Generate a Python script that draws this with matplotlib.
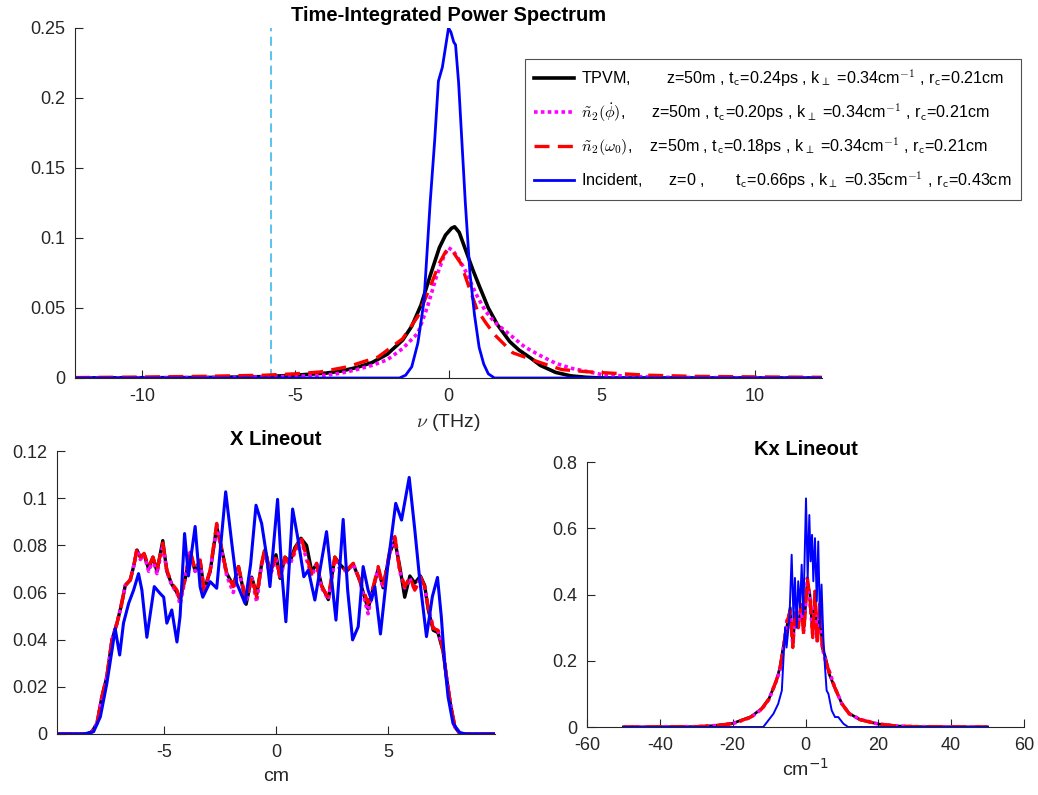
import matplotlib
matplotlib.use("Agg")
import matplotlib.pyplot as plt
from matplotlib.ticker import FuncFormatter

plt.rcParams['font.family'] = ['Liberation Sans', 'DejaVu Sans']
plt.rcParams['mathtext.fontset'] = 'cm'

# ---------------- Top panel: time-integrated power spectrum ----------------
nu_inc = [-12.2, -1.6, -1.4, -1.2, -1.0, -0.8, -0.6, -0.45, -0.33, -0.2, -0.1, 0.0, 0.08,
          0.17, 0.23, 0.33, 0.45, 0.55, 0.7, 0.85, 1.0, 1.15, 1.3, 1.5, 12.2]
p_inc = [0, 0, 0.002, 0.008, 0.025, 0.055, 0.125, 0.170, 0.212, 0.222, 0.236, 0.250, 0.247,
         0.240, 0.238, 0.211, 0.164, 0.125, 0.075, 0.045, 0.022, 0.010, 0.003, 0, 0]

nu_tpvm = [-12.2, -8, -6, -5, -4, -3.5, -3, -2.5, -2, -1.5, -1.2, -0.9, -0.6, -0.3, -0.1, 0.1,
           0.2, 0.35, 0.5, 0.8, 1.0, 1.3, 1.6, 2.0, 2.3, 2.7, 3.0, 3.5, 4.0, 4.5, 5, 12.2]
p_tpvm = [0, 0.0003, 0.001, 0.002, 0.0035, 0.005, 0.0075, 0.011, 0.017, 0.027, 0.037, 0.052,
          0.073, 0.093, 0.102, 0.107, 0.108, 0.104, 0.095, 0.077, 0.066, 0.050, 0.038, 0.026,
          0.020, 0.014, 0.009, 0.004, 0.0015, 0.0005, 0, 0]

nu_phi = [-12.2, -8, -6, -5, -4, -3.5, -3, -2.5, -2, -1.5, -1.0, -0.7, -0.4, -0.15, 0.0, 0.15,
          0.3, 0.5, 0.9, 1.2, 1.5, 2.0, 2.5, 3.0, 3.5, 4.0, 5.0, 6.0, 7.0, 9, 12.2]
p_phi = [0, 0.0003, 0.0008, 0.0012, 0.002, 0.0035, 0.006, 0.009, 0.013, 0.021, 0.032, 0.050,
         0.072, 0.087, 0.093, 0.091, 0.086, 0.079, 0.060, 0.048, 0.040, 0.031, 0.022, 0.016,
         0.0105, 0.007, 0.0025, 0.001, 0.0005, 0.0002, 0]

nu_w0 = [-12.2, -10, -8, -6, -5, -4.2, -3.3, -2.3, -1.5, -1.0, -0.6, -0.3, -0.1, 0.0, 0.15, 0.4,
         0.7, 0.93, 1.2, 1.5, 2.1, 3.0, 3.7, 4.5, 5.3, 6.5, 8, 10, 12.2]
p_w0 = [0.0003, 0.0007, 0.0012, 0.002, 0.003, 0.0043, 0.008, 0.015, 0.028, 0.044, 0.065, 0.082,
        0.090, 0.092, 0.090, 0.082, 0.063, 0.049, 0.040, 0.031, 0.018, 0.011, 0.006, 0.0045,
        0.0035, 0.002, 0.0012, 0.0008, 0.0005]

nu_cut = [-5.8, -5.8]
p_cut = [0, 0.252]

# ---------------- X lineout ----------------
x_inc = [-9.75, -8.56, -8.12, -7.82, -7.53, -7.3, -7.16, -6.96, -6.79, -6.56, -6.34, -6.12,
         -5.97, -5.75, -5.42, -5.16, -5.0, -4.86, -4.64, -4.41, -4.27, -4.07, -3.9, -3.6,
         -3.38, -3.26, -2.93, -2.64, -2.24, -1.97, -1.75, -1.38, -1.13, -0.89, -0.64, -0.41,
         -0.27, 0.07, 0.25, 0.44, 0.74, 0.96, 1.24, 1.44, 1.73, 2.25, 2.67, 2.99, 3.19, 3.41,
         3.66, 3.88, 4.1, 4.25, 4.4, 4.65, 4.99, 5.33, 5.59, 5.93, 6.18, 6.4, 6.7, 6.96, 7.19,
         7.36, 7.51, 7.66, 7.88, 8.18, 8.47, 9.75]
I_inc = [0, 0, 0.001, 0.0073, 0.0215, 0.0356, 0.0447, 0.0335, 0.047, 0.0554, 0.061, 0.068,
         0.061, 0.041, 0.0625, 0.0596, 0.058, 0.047, 0.0526, 0.039, 0.050, 0.085, 0.067, 0.088,
         0.0625, 0.058, 0.0646, 0.0618, 0.1027, 0.081, 0.064, 0.0554, 0.072, 0.097, 0.0893,
         0.075, 0.0625, 0.0995, 0.0695, 0.0476, 0.0954, 0.0837, 0.0667, 0.0695, 0.0568, 0.0858,
         0.0483, 0.091, 0.061, 0.0399, 0.0455, 0.071, 0.061, 0.0568, 0.0625, 0.0424, 0.0724,
         0.0978, 0.0907, 0.1088, 0.0865, 0.0653, 0.0413, 0.0582, 0.0664, 0.0497, 0.030, 0.0158,
         0.0045, 0.0006, 0, 0]

x_z50 = [-9.75, -8.4, -8.19, -7.97, -7.75, -7.53, -7.3, -7.08, -6.9, -6.71, -6.49, -6.34,
         -6.19, -6.04, -5.87, -5.67, -5.48, -5.3, -5.04, -4.86, -4.64, -4.41, -4.27, -4.04,
         -3.82, -3.6, -3.38, -3.2, -2.93, -2.64, -2.41, -2.19, -1.9, -1.67, -1.33, -1.08,
         -0.86, -0.64, -0.49, -0.27, 0.0, 0.18, 0.4, 0.62, 0.84, 1.11, 1.36, 1.59, 1.81, 2.03,
         2.33, 2.62, 2.84, 3.14, 3.44, 3.73, 4.1, 4.33, 4.55, 4.77, 5.07, 5.29, 5.51, 5.73,
         5.96, 6.18, 6.43, 6.62, 6.77, 7.0, 7.21, 7.44, 7.59, 7.76, 7.96, 8.18, 8.4, 9.75]
I_w0 = [0, 0, 0.001, 0.0045, 0.0158, 0.0243, 0.040, 0.047, 0.054, 0.063, 0.0653, 0.071,
        0.0787, 0.075, 0.0766, 0.071, 0.075, 0.0695, 0.081, 0.0695, 0.0639, 0.061, 0.0568,
        0.0667, 0.078, 0.0695, 0.0738, 0.061, 0.0695, 0.0893, 0.078, 0.068, 0.0625, 0.071,
        0.0568, 0.0667, 0.058, 0.0724, 0.079, 0.068, 0.075, 0.0667, 0.075, 0.0724, 0.078,
        0.0837, 0.075, 0.068, 0.0724, 0.0625, 0.058, 0.075, 0.071, 0.0695, 0.0724, 0.0653,
        0.0554, 0.0625, 0.071, 0.0625, 0.078, 0.0837, 0.0695, 0.0625, 0.0667, 0.061, 0.0667,
        0.0625, 0.054, 0.0448, 0.044, 0.0356, 0.0243, 0.013, 0.003, 0.0003, 0, 0]
I_tpvm = [0, 0, 0.001, 0.0045, 0.0158, 0.0243, 0.040, 0.047, 0.054, 0.063, 0.0653, 0.071,
          0.078, 0.075, 0.0760, 0.070, 0.075, 0.0690, 0.082, 0.0690, 0.0635, 0.060, 0.0570,
          0.0660, 0.077, 0.0690, 0.0735, 0.061, 0.0690, 0.0880, 0.078, 0.068, 0.0630, 0.071,
          0.0550, 0.0665, 0.059, 0.0720, 0.078, 0.069, 0.076, 0.0660, 0.075, 0.0730, 0.079,
          0.0830, 0.080, 0.069, 0.0720, 0.0630, 0.057, 0.075, 0.072, 0.0690, 0.0720, 0.0650,
          0.0530, 0.0620, 0.070, 0.0620, 0.077, 0.0820, 0.0710, 0.0580, 0.0670, 0.064, 0.0670,
          0.0630, 0.053, 0.0440, 0.043, 0.0350, 0.0240, 0.013, 0.003, 0.0003, 0, 0]
I_phi = [0, 0, 0.001, 0.0045, 0.0158, 0.0243, 0.040, 0.047, 0.054, 0.063, 0.0653, 0.071,
         0.0780, 0.074, 0.0760, 0.069, 0.074, 0.0680, 0.080, 0.0690, 0.0630, 0.060, 0.0550,
         0.0660, 0.077, 0.0690, 0.0730, 0.060, 0.0690, 0.0880, 0.077, 0.067, 0.0600, 0.070,
         0.0560, 0.0660, 0.056, 0.0720, 0.077, 0.067, 0.074, 0.0660, 0.074, 0.0720, 0.077,
         0.0830, 0.074, 0.067, 0.0720, 0.0620, 0.057, 0.074, 0.070, 0.0690, 0.0720, 0.0650,
         0.0510, 0.0620, 0.070, 0.0620, 0.077, 0.0840, 0.0690, 0.0620, 0.0660, 0.061, 0.0660,
         0.0620, 0.054, 0.0450, 0.044, 0.0360, 0.0245, 0.013, 0.003, 0.0003, 0, 0]

# ---------------- Kx lineout ----------------
kx_inc = [-50, -11.6, -8.8, -7.5, -6.5, -5.6, -5.2, -4.4, -3.8, -3.3, -2.9, -2.4, -2.0, -1.5,
          -1.05, -0.6, 0.14, 0.6, 1.05, 1.4, 1.8, 2.15, 2.6, 3.1, 3.5, 4.0, 4.4, 4.9, 5.3, 5.8,
          6.3, 7.2, 8.1, 9.0, 10.4, 11.7, 50]
S_inc = [0, 0, 0.04, 0.07, 0.11, 0.30, 0.24, 0.33, 0.52, 0.33, 0.45, 0.30, 0.44, 0.36, 0.49,
         0.34, 0.69, 0.45, 0.64, 0.50, 0.58, 0.44, 0.57, 0.38, 0.56, 0.30, 0.43, 0.27, 0.19,
         0.11, 0.10, 0.05, 0.03, 0.03, 0.01, 0, 0]

kx_z50 = [-50, -30, -25, -20, -15, -12, -10, -8, -7, -6, -5, -4.2, -3.5, -2.8, -2.0, -1.2,
          -0.5, 0.5, 1.2, 2.0, 2.6, 3.2, 4.0, 4.6, 5.5, 6.5, 8, 10, 12, 15, 20, 25, 30, 50]
S_w0 = [0, 0.001, 0.004, 0.010, 0.030, 0.055, 0.085, 0.14, 0.18, 0.24, 0.32, 0.35, 0.24, 0.35,
        0.30, 0.37, 0.28, 0.45, 0.39, 0.27, 0.41, 0.25, 0.37, 0.25, 0.20, 0.165, 0.12, 0.07,
        0.04, 0.022, 0.009, 0.003, 0.001, 0]
S_tpvm = [0, 0.001, 0.004, 0.011, 0.031, 0.056, 0.086, 0.14, 0.18, 0.25, 0.31, 0.36, 0.25,
          0.34, 0.31, 0.36, 0.29, 0.44, 0.40, 0.28, 0.40, 0.26, 0.36, 0.24, 0.21, 0.16, 0.12,
          0.07, 0.041, 0.022, 0.009, 0.003, 0.001, 0]
S_phi = [0, 0.001, 0.004, 0.010, 0.029, 0.054, 0.084, 0.14, 0.17, 0.24, 0.33, 0.34, 0.25,
         0.35, 0.30, 0.36, 0.29, 0.44, 0.38, 0.28, 0.40, 0.26, 0.38, 0.24, 0.20, 0.17, 0.12,
         0.07, 0.040, 0.023, 0.009, 0.003, 0.001, 0]

legend_labels = [
    r"TPVM,        z=50m , t$_\mathsf{c}$=0.24ps , k$_\perp$ =0.34cm$^{\mathsf{-1}}$ , r$_\mathsf{c}$=0.21cm",
    r"$\tilde{n}_2(\dot{\phi})$,      z=50m , t$_\mathsf{c}$=0.20ps , k$_\perp$ =0.34cm$^{\mathsf{-1}}$ , r$_\mathsf{c}$=0.21cm",
    r"$\tilde{n}_2(\omega_\mathsf{0})$,    z=50m , t$_\mathsf{c}$=0.18ps , k$_\perp$ =0.34cm$^{\mathsf{-1}}$ , r$_\mathsf{c}$=0.21cm",
    r"Incident,      z=0 ,       t$_\mathsf{c}$=0.66ps , k$_\perp$ =0.35cm$^{\mathsf{-1}}$ , r$_\mathsf{c}$=0.43cm",
]

# ---------------- styling ----------------
AX = '#262626'
C_BLACK = 'black'
C_MAG = '#ff00ff'
C_RED = '#ff0000'
C_BLUE = '#0000ff'
C_CUT = '#4dbeee'
fmt = FuncFormatter(lambda v, p: '%g' % round(v, 6))

fig = plt.figure(figsize=(10.38, 7.95), dpi=100)
W, H = 1038.0, 795.0


def make_ax(l, r, t, b):
    ax = fig.add_axes([l / W, 1 - b / H, (r - l) / W, (b - t) / H])
    for s in ('top', 'right'):
        ax.spines[s].set_visible(False)
    for s in ('left', 'bottom'):
        ax.spines[s].set_color(AX)
        ax.spines[s].set_linewidth(0.8)
    ax.tick_params(direction='in', length=6, width=0.8, colors=AX, labelsize=13,
                   labelcolor=AX, pad=7)
    ax.xaxis.set_major_formatter(fmt)
    ax.yaxis.set_major_formatter(fmt)
    return ax


def draw(ax, xb, yb, xp, yp, xr, yr, xi, yi, lw_b, lw_i):
    h1, = ax.plot(xb, yb, color=C_BLACK, lw=lw_b, solid_joinstyle='round')
    h2, = ax.plot(xp, yp, color=C_MAG, lw=2.6, linestyle=(0, (1.0, 0.9)))
    h3, = ax.plot(xr, yr, color=C_RED, lw=2.4, linestyle=(0, (4.5, 2.5)))
    h4, = ax.plot(xi, yi, color=C_BLUE, lw=lw_i, solid_joinstyle='round')
    return [h1, h2, h3, h4]


# Top
ax1 = make_ax(75, 822, 28, 378)
ax1.plot(nu_cut, p_cut, color=C_CUT, lw=1.3, linestyle=(0, (5, 3)))
handles = draw(ax1, nu_tpvm, p_tpvm, nu_phi, p_phi, nu_w0, p_w0, nu_inc, p_inc, 2.6, 2.0)
ax1.set_xlim(-12.2, 12.2)
ax1.set_ylim(0, 0.25)
ax1.set_xticks([-10, -5, 0, 5, 10])
ax1.set_yticks([0, 0.05, 0.1, 0.15, 0.2, 0.25])
ax1.set_title('Time-Integrated Power Spectrum', fontsize=14.5, fontweight='bold', pad=5)
ax1.set_xlabel(r'$\nu$ (THz)', fontsize=14, color=AX, labelpad=5)

leg = fig.legend(handles, legend_labels, loc='upper left',
                 bbox_to_anchor=(525 / W, 1 - 59 / H), bbox_transform=fig.transFigure,
                 borderaxespad=0, fontsize=11.6, frameon=True, fancybox=False,
                 edgecolor=AX, handlelength=2.5, handletextpad=0.45, labelspacing=0.72,
                 borderpad=0.55)
leg.get_frame().set_linewidth(0.8)

# X lineout
ax2 = make_ax(57, 495, 451, 734)
draw(ax2, x_z50, I_tpvm, x_z50, I_phi, x_z50, I_w0, x_inc, I_inc, 2.4, 2.2)
ax2.set_xlim(-9.75, 9.75)
ax2.set_ylim(0, 0.12)
ax2.set_xticks([-5, 0, 5])
ax2.set_yticks([0, 0.02, 0.04, 0.06, 0.08, 0.1, 0.12])
ax2.set_title('X Lineout', fontsize=14.5, fontweight='bold', pad=4)
ax2.set_xlabel('cm', fontsize=14, color=AX, labelpad=5)

# Kx lineout
ax3 = make_ax(587, 1024, 462, 727)
draw(ax3, kx_z50, S_tpvm, kx_z50, S_phi, kx_z50, S_w0, kx_inc, S_inc, 2.0, 1.4)
ax3.set_xlim(-60, 60)
ax3.set_ylim(0, 0.8)
ax3.set_xticks([-60, -40, -20, 0, 20, 40, 60])
ax3.set_yticks([0, 0.2, 0.4, 0.6, 0.8])
ax3.set_title('Kx Lineout', fontsize=14.5, fontweight='bold', pad=5)
xl = ax3.set_xlabel(r'cm$^{-1}$', fontsize=14, color=AX, labelpad=3)
xl.set_math_fontfamily('dejavusans')

for a in (ax1, ax2, ax3):
    for t in a.get_xticklabels() + a.get_yticklabels():
        t.set_clip_on(False)

fig.savefig('out.png', dpi=100, facecolor='white')
